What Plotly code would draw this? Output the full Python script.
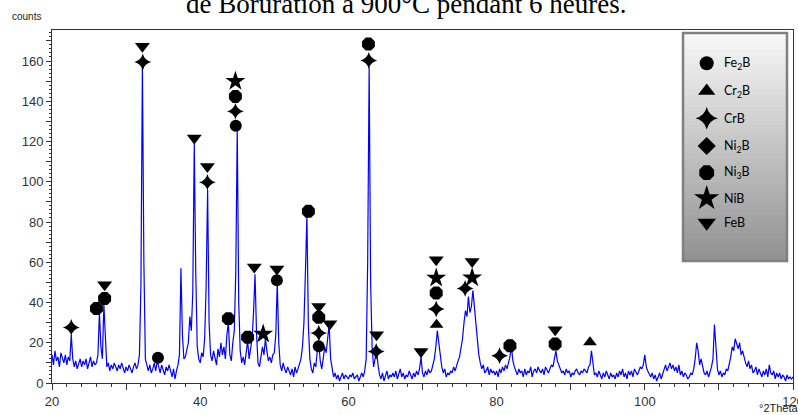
import plotly.graph_objects as go

# ---------------- data ----------------
TWO_THETA_START = 20.0
TWO_THETA_STEP = 0.2

COUNTS_20_40 = [
    14, 9, 16, 11, 13, 8, 15, 12, 10, 14,
    9, 13, 11, 24, 12, 8, 11, 7, 10, 12,
    8, 11, 9, 12, 7, 10, 13, 8, 11, 9,
    10, 14, 35, 18, 12, 39, 22, 8, 10, 6,
    9, 7, 10, 8, 6, 9, 7, 10, 8, 5,
    8, 6, 9, 7, 5, 8, 10, 7, 9, 14,
    48, 158, 60, 12, 8, 6, 9, 5, 7, 10,
    6, 11, 8, 5, 9, 7, 4, 8, 6, 9,
    5, 3, 7, 2, 6, 9, 14, 57, 24, 12,
    13, 16, 20, 33, 26, 45, 119, 55, 18, 12,
]
COUNTS_40_60 = [
    10, 15, 13, 22, 48, 96, 30, 14, 11, 16,
    12, 9, 17, 13, 20, 14, 18, 12, 24, 30,
    14, 11, 20, 26, 55, 126, 40, 16, 10, 13,
    9, 15, 21, 12, 18, 22, 35, 54, 25, 10,
    8, 12, 18, 14, 22, 16, 11, 13, 10, 14,
    15, 24, 50, 20, 9, 6, 10, 7, 5, 8,
    6, 4, 7, 3, 8, 5, 7, 9, 12, 18,
    30, 55, 83, 28, 12, 7, 5, 10, 8, 16,
    20, 11, 7, 12, 18, 15, 24, 29, 12, 6,
    3, 5, 2, 4, 1, 3, 5, 2, 4, 3,
]
COUNTS_60_80 = [
    2, 4, 3, 5, 2, 3, 4, 1, 3, 5,
    3, 6, 12, 60, 157, 50, 18, 8, 12, 16,
    9, 4, 2, 5, 1, 3, 6, 2, 4, 3,
    5, 3, 6, 2, 4, 7, 3, 5, 2, 4,
    3, 6, 4, 2, 5, 3, 6, 4, 7, 13,
    5, 3, 6, 4, 7, 5, 6, 9, 12, 18,
    26, 20, 12, 8, 5, 7, 3, 5, 4, 6,
    5, 8, 6, 9, 11, 13, 18, 22, 30, 36,
    33, 43, 35, 38, 46, 37, 28, 20, 14, 10,
    7, 9, 5, 6, 8, 4, 7, 5, 6, 4,
]
COUNTS_80_100 = [
    6, 3, 7, 5, 8, 6, 9, 7, 10, 13,
    18, 11, 8, 6, 4, 7, 5, 6, 3, 7,
    4, 6, 5, 8, 3, 6, 7, 5, 8, 6,
    5, 7, 4, 8, 6, 5, 7, 9, 8, 12,
    16, 11, 9, 7, 5, 6, 4, 7, 5, 6,
    3, 5, 4, 6, 7, 5, 4, 6, 5, 7,
    6, 5, 8, 9, 16, 8, 4, 5, 3, 6,
    4, 2, 5, 3, 6, 4, 2, 5, 3, 4,
    2, 5, 3, 6, 4, 7, 3, 5, 2, 6,
    4, 6, 3, 7, 5, 4, 6, 8, 7, 9,
]
COUNTS_100_120 = [
    14, 8, 6, 4, 3, 5, 2, 4, 1, 3,
    5, 2, 4, 6, 9, 6, 8, 10, 7, 9,
    6, 8, 5, 9, 4, 6, 3, 5, 4, 2,
    3, 5, 4, 7, 12, 20, 16, 9, 12, 8,
    5, 4, 6, 3, 5, 8, 12, 29, 18, 7,
    4, 6, 3, 5, 4, 7, 6, 9, 13, 18,
    16, 22, 19, 17, 20, 14, 16, 12, 10, 8,
    11, 7, 9, 5, 6, 8, 4, 7, 5, 3,
    6, 4, 7, 3, 9, 5, 4, 6, 2, 5,
    3, 5, 2, 4, 3, 1, 4, 2, 3, 2,
    3,
]

# phase identification markers (2theta, counts)
FE2B_X = [34.3, 44.8, 50.35, 56.0]
FE2B_Y = [12.6, 127.8, 51.0, 18.2]
CR2B_X = [71.9, 92.6]
CR2B_Y = [29.0, 20.2]
CRB_X = [22.6, 32.25, 40.97, 44.75, 56.0, 62.75, 63.75, 71.85, 75.75, 80.4]
CRB_Y = [27.6, 159.5, 99.7, 135.0, 24.8, 160.3, 15.7, 36.8, 47.0, 13.6]
NI2B_X = []
NI2B_Y = []
NI3B_X = [26.0, 27.1, 43.8, 44.75, 46.4, 54.6, 56.0, 62.7, 71.85, 81.8, 87.9]
NI3B_Y = [37.0, 42.0, 32.0, 142.4, 22.7, 85.3, 32.6, 168.4, 44.7, 18.5, 19.4]
NIB_X = [44.75, 48.5, 71.85, 76.7]
NIB_Y = [149.9, 24.3, 52.2, 52.3]
FEB_X = [27.1, 32.2, 39.2, 40.97, 47.3, 50.35, 56.0, 57.5, 63.8, 69.8, 71.85, 76.7, 87.9]
FEB_Y = [48.8, 167.3, 121.7, 107.6, 57.6, 56.6, 38.0, 29.5, 24.0, 15.7, 61.3, 60.4, 26.5]

PHASE_NAMES = ["Fe<sub>2</sub>B", "Cr<sub>2</sub>B", "CrB", "Ni<sub>2</sub>B",
               "Ni<sub>3</sub>B", "NiB", "FeB"]
PHASE_SYMBOLS = ["circle", "triangle-up", "star-diamond", "diamond",
                 "octagon", "star", "triangle-down"]

X_TICKS = [20, 30, 40, 50, 60, 70, 80, 90, 100, 110, 120]
X_TICK_TEXT = ["20", "", "40", "", "60", "", "80", "", "100", "", "120"]
Y_TICKS = [0, 10, 20, 30, 40, 50, 60, 70, 80, 90, 100, 110, 120, 130, 140, 150, 160, 170]
Y_TICK_TEXT = ["0", "", "20", "", "40", "", "60", "", "80", "", "100", "", "120", "",
               "140", "", "160", ""]

TITLE = "de Boruration à 900°C pendant 6 heures."

# ---------------- figure ----------------
counts = COUNTS_20_40 + COUNTS_40_60 + COUNTS_60_80 + COUNTS_80_100 + COUNTS_100_120
two_theta = [round(TWO_THETA_START + i * TWO_THETA_STEP, 2) for i in range(len(counts))]

W, H = 798, 415
ML, MR, MT, MB = 52, 5, 30, 32
PX_L, PX_R, PX_T, PX_B = ML, W - MR, MT, H - MB
PW, PH = PX_R - PX_L, PX_B - PX_T
Y_MAX = PH / 2.0125


def paper_x(px):
    return (px - PX_L) / PW


def paper_y(py):
    return (PX_B - py) / PH


fig = go.Figure()
fig.add_trace(go.Scatter(x=two_theta, y=counts, mode="lines",
                         line=dict(color="#0000ff", width=1.2), showlegend=False,
                         hoverinfo="skip"))

phase_series = [(FE2B_X, FE2B_Y), (CR2B_X, CR2B_Y), (CRB_X, CRB_Y), (NI2B_X, NI2B_Y),
                (NI3B_X, NI3B_Y), (NIB_X, NIB_Y), (FEB_X, FEB_Y)]
marker_sizes = {"circle": 12, "triangle-up": 12, "star-diamond": 12, "diamond": 12,
                "octagon": 14, "star": 15, "triangle-down": 13}
for (xs, ys), sym in zip(phase_series, PHASE_SYMBOLS):
    if xs:
        fig.add_trace(go.Scatter(x=xs, y=ys, mode="markers", showlegend=False,
                                 cliponaxis=False,
                                 marker=dict(symbol=sym, size=marker_sizes[sym], color="black",
                                             line=dict(width=0))))

# legend box (pixel coordinates via overlay axes)
LEG_L, LEG_R, LEG_T, LEG_B = 683, 787, 33, 261
nb = 40
shapes = []
for i in range(nb):
    t0 = LEG_T + (LEG_B - LEG_T) * i / nb
    t1 = LEG_T + (LEG_B - LEG_T) * (i + 1) / nb
    f = (i + 0.5) / nb
    g = int(round(248 - (248 - 145) * f))
    shapes.append(dict(type="rect", xref="x2", yref="y2", x0=LEG_L, x1=LEG_R, y0=t0, y1=t1 + 0.6,
                       line=dict(width=0), fillcolor=f"rgb({g},{g},{g})", layer="below"))
shapes.append(dict(type="rect", xref="x2", yref="y2", x0=LEG_L, x1=LEG_R, y0=LEG_T, y1=LEG_B,
                   line=dict(color="#808080", width=2.5), fillcolor="rgba(0,0,0,0)", layer="below"))

leg_y = [63.3, 91, 118.3, 146, 172.7, 198.3, 222.7]
leg_sizes = {"circle": 14, "triangle-up": 15, "star-diamond": 16, "diamond": 14,
             "octagon": 16, "star": 19, "triangle-down": 16}
for sym, yy in zip(PHASE_SYMBOLS, leg_y):
    fig.add_trace(go.Scatter(x=[706.7], y=[yy], xaxis="x2", yaxis="y2", mode="markers",
                             showlegend=False, hoverinfo="skip",
                             marker=dict(symbol=sym, size=leg_sizes[sym], color="black",
                                         line=dict(width=0))))

annotations = []
for name, yy in zip(PHASE_NAMES, leg_y):
    annotations.append(dict(x=721.5, y=yy, xref="x2", yref="y2", text=name, showarrow=False,
                            xanchor="left", yanchor="middle",
                            font=dict(family="Lato", size=12.5, color="#000")))
annotations.append(dict(x=paper_x(10), y=paper_y(17), xref="paper", yref="paper", text="counts",
                        showarrow=False, xanchor="left", yanchor="middle",
                        font=dict(family="Liberation Sans", size=10, color="#222")))
annotations.append(dict(x=paper_x(757), y=paper_y(408), xref="paper", yref="paper",
                        text="°2Theta", showarrow=False, xanchor="left", yanchor="middle",
                        font=dict(family="Liberation Sans", size=11, color="#222")))
annotations.append(dict(x=paper_x(405.5), y=paper_y(21), xref="paper", yref="paper", text=TITLE,
                        showarrow=False, xanchor="center", yanchor="bottom",
                        font=dict(family="Liberation Serif", size=27, color="#000")))

axis_font = dict(family="Liberation Sans", size=13, color="#333")
fig.update_layout(
    width=W, height=H,
    margin=dict(l=ML, r=MR, t=MT, b=MB, pad=0, autoexpand=False),
    paper_bgcolor="white", plot_bgcolor="white",
    showlegend=False,
    shapes=shapes, annotations=annotations,
    xaxis=dict(range=[20, 120], tickmode="array", tickvals=X_TICKS, ticktext=X_TICK_TEXT,
               ticks="outside", ticklen=6, tickwidth=1, tickcolor="#333",
               showline=True, linecolor="#333", linewidth=1, mirror=True,
               showgrid=False, zeroline=False, tickfont=axis_font,
               ticklabeloverflow="allow", automargin=False,
               minor=dict(tickmode="linear", tick0=20, dtick=2, ticks="outside",
                          ticklen=3, tickcolor="#333", showgrid=False)),
    yaxis=dict(range=[0, Y_MAX], tickmode="array", tickvals=Y_TICKS, ticktext=Y_TICK_TEXT,
               ticks="outside", ticklen=5, tickwidth=1, tickcolor="#333",
               showline=True, linecolor="#333", linewidth=1, mirror=True,
               showgrid=False, zeroline=False, tickfont=axis_font,
               ticklabeloverflow="allow", automargin=False,
               minor=dict(tickmode="linear", tick0=0, dtick=2, ticks="outside",
                          ticklen=2, tickcolor="#333", showgrid=False)),
    xaxis2=dict(overlaying="x", range=[PX_L, PX_R], visible=False, fixedrange=True),
    yaxis2=dict(overlaying="y", range=[PX_B, PX_T], visible=False, fixedrange=True),
)

fig.write_html("out.html")
